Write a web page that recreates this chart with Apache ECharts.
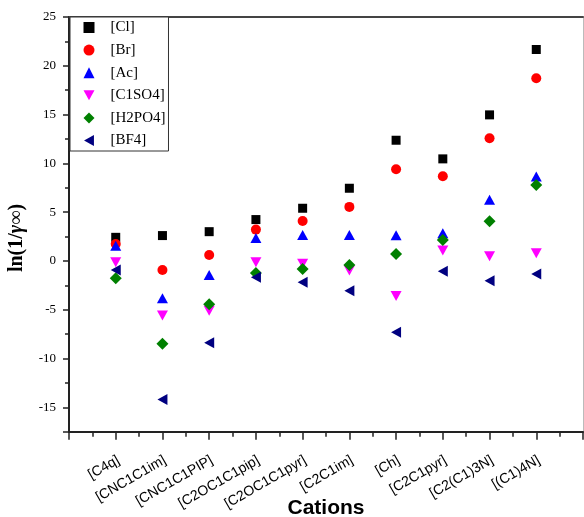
<!DOCTYPE html>
<html>
<head>
<meta charset="utf-8">
<title>ln(1/γ∞) by cation</title>
<script src="https://cdn.jsdelivr.net/npm/echarts@6/dist/echarts.min.js"></script>
<style>
  html, body { margin: 0; padding: 0; background: #fff; }
  #chart { width: 584px; height: 517px; }
</style>
</head>
<body>
<div id="chart"></div>
<script>
// Cations along the horizontal axis (placed at positions 1..10)
const categories = ['[C4q]', '[CNC1C1im]', '[CNC1C1PIP]', '[C2OC1C1pip]', '[C2OC1C1pyr]',
                    '[C2C1im]', '[Ch]', '[C2C1pyr]', '[C2(C1)3N]', '[(C1)4N]'];

// ln(1/γ∞) for each anion, one value per cation
const cl    = [2.42, 2.60, 3.00, 4.24, 5.40, 7.45, 12.37, 10.46, 14.97, 21.67];
const br    = [1.74, -0.92, 0.61, 3.21, 4.10, 5.54, 9.40, 8.68, 12.57, 18.73];
const ac    = [1.55, -3.83, -1.44, 2.34, 2.67, 2.67, 2.63, 2.85, 6.26, 8.65];
const c1so4 = [-0.14, -5.60, -5.10, -0.14, -0.30, -0.99, -3.59, 1.06, 0.47, 0.78];
const h2po4 = [-1.78, -8.48, -4.45, -1.23, -0.82, -0.41, 0.72, 2.15, 4.06, 7.79];
const bf4   = [-0.92, -14.20, -8.38, -1.68, -2.19, -3.05, -7.32, -1.06, -2.02, -1.33];

const seriesNames = ['[Cl]', '[Br]', '[Ac]', '[C1SO4]', '[H2PO4]', '[BF4]'];

const toPoints = vals => vals.map((v, i) => [i + 1, v]);

const chart = echarts.init(document.getElementById('chart'), null, { renderer: 'canvas' });

const axisColor = '#222';

const option = {
  animation: false,
  backgroundColor: '#fff',
  grid: { left: 69, top: 17, right: 1, bottom: 85.3, containLabel: false, outerBoundsMode: 'none' },
  legend: {
    orient: 'vertical',
    left: 70,
    top: 17,
    itemWidth: 11,
    itemHeight: 11,
    itemGap: 7.6,
    padding: [3, 3, 3, 13.5],
    borderColor: '#333',
    borderWidth: 1,
    backgroundColor: '#fff',
    data: seriesNames,
    textStyle: {
      fontFamily: 'Liberation Serif',
      fontSize: 15,
      color: '#000',
      lineHeight: 11,
      padding: [0, 0, 0, 11]
    }
  },
  xAxis: [
    {
      type: 'value',
      position: 'bottom',
      min: 0,
      max: 11,
      interval: 1,
      axisLine: { onZero: false, lineStyle: { color: axisColor, width: 2 } },
      axisTick: { length: 8, lineStyle: { color: axisColor, width: 1.5 } },
      minorTick: { show: true, splitNumber: 2, length: 5, lineStyle: { color: axisColor, width: 1.5 } },
      splitLine: { show: false },
      minorSplitLine: { show: false },
      axisLabel: {
        formatter: v => categories[Math.round(v) - 1] || '',
        rotate: 30,
        margin: 29,
        fontFamily: 'Liberation Sans',
        fontSize: 14,
        color: '#000',
        padding: [6, -3, 0, 0]
      },
      name: 'Cations',
      nameLocation: 'middle',
      nameGap: 66,
      nameMoveOverlap: false,
      nameTextStyle: { fontFamily: 'Liberation Sans', fontWeight: 'bold', fontSize: 21, color: '#000' }
    },
    {
      // frame line along the top
      type: 'value',
      position: 'top',
      min: 0,
      max: 11,
      axisLine: { show: true, onZero: false, lineStyle: { color: '#444', width: 2 } },
      axisTick: { show: false },
      axisLabel: { show: false },
      splitLine: { show: false }
    }
  ],
  yAxis: [
    {
      type: 'value',
      position: 'left',
      min: -17.5,
      max: 25,
      splitNumber: 8,
      axisLine: { onZero: false, lineStyle: { color: axisColor, width: 2 } },
      axisTick: { length: 6, lineStyle: { color: axisColor, width: 1.5 } },
      splitLine: { show: false },
      axisLabel: {
        formatter: v => (Math.abs(v % 5) < 1e-9 ? String(v) : ''),
        fontFamily: 'Liberation Serif',
        fontSize: 13,
        color: '#000',
        margin: 13
      }
    },
    {
      // frame line along the right edge
      type: 'value',
      position: 'right',
      min: -17.5,
      max: 25,
      axisLine: { show: true, onZero: false, lineStyle: { color: '#bbb', width: 1 } },
      axisTick: { show: false },
      axisLabel: { show: false },
      splitLine: { show: false }
    },
    {
      // half-step ticks on the left axis
      type: 'value',
      position: 'left',
      min: -17.5,
      max: 25,
      interval: 2.5,
      axisLine: { show: false, onZero: false },
      axisTick: { length: 4, lineStyle: { color: axisColor, width: 1.5 } },
      axisLabel: { show: false },
      splitLine: { show: false }
    }
  ],
  graphic: [
    {
      type: 'text',
      x: 17,
      y: 238,
      rotation: Math.PI / 2,
      style: {
        text: '{a|ln(1/}{b|γ∞}{a|)}',
        textAlign: 'center',
        textVerticalAlign: 'middle',
        align: 'center',
        verticalAlign: 'middle',
        fill: '#000',
        rich: {
          a: { fontFamily: 'Liberation Serif', fontWeight: 'bold', fontSize: 20, fill: '#000' },
          b: { fontFamily: 'Liberation Serif', fontWeight: 'bold', fontStyle: 'italic', fontSize: 20, fill: '#000' }
        }
      }
    }
  ],
  series: [
    { name: '[Cl]', type: 'scatter', data: toPoints(cl), symbol: 'rect', symbolSize: 9,
      itemStyle: { color: '#000000', opacity: 1 } },
    { name: '[Br]', type: 'scatter', data: toPoints(br), symbol: 'circle', symbolSize: 10,
      itemStyle: { color: '#ff0000', opacity: 1 } },
    { name: '[Ac]', type: 'scatter', data: toPoints(ac), symbol: 'triangle', symbolSize: [11, 10],
      itemStyle: { color: '#0000ff', opacity: 1 } },
    { name: '[C1SO4]', type: 'scatter', data: toPoints(c1so4), symbol: 'path://M0,0 L10,0 L5,9 Z', symbolSize: [11, 10],
      itemStyle: { color: '#ff00ff', opacity: 1 } },
    { name: '[H2PO4]', type: 'scatter', data: toPoints(h2po4), symbol: 'diamond', symbolSize: [12, 12],
      itemStyle: { color: '#008000', opacity: 1 } },
    { name: '[BF4]', type: 'scatter', data: toPoints(bf4), symbol: 'path://M9,0 L9,10 L0,5 Z', symbolSize: [10, 11],
      itemStyle: { color: '#000080', opacity: 1 } }
  ]
};

chart.setOption(option);
</script>
</body>
</html>
